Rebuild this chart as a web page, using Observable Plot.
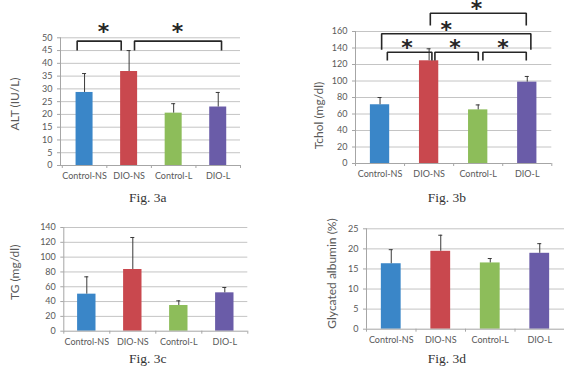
<!DOCTYPE html>
<html><head><meta charset="utf-8">
<script src="https://cdn.jsdelivr.net/npm/d3@7"></script>
<script src="https://cdn.jsdelivr.net/npm/@observablehq/plot@0.6"></script>
<style>
html,body{margin:0;padding:0;background:#fff;}
#fig{position:relative;width:564px;height:372px;overflow:hidden;background:#fff;}
.panel{position:absolute;}
.panel svg{overflow:visible;}
.cap{position:absolute;width:120px;text-align:center;font-family:"Liberation Serif",serif;font-size:13.5px;color:#333;line-height:16px;}
</style></head><body>
<div id="fig"></div>
<script>
// ---- data ----
const categories = ["Control-NS", "DIO-NS", "Control-L", "DIO-L"];
const barColors = ["#3a86c8", "#c9484e", "#8dbd5a", "#6a5ca8"];

const altMean = [28.6, 36.8, 20.5, 22.9];
const altSD = [7.4, 8.2, 3.7, 5.7];
const altBracketFrom = [0, 1];
const altBracketTo = [1, 3];
const altBracketTop = [48.7, 48.7];
const altBracketBottom = [45, 45];

const tcholMean = [71.2, 124.5, 65, 98.6];
const tcholSD = [8.8, 14.5, 6, 6.9];
const tcholBracketFrom = [0, 1, 2, 0, 1];
const tcholBracketTo = [1, 2, 3, 3, 3];
const tcholBracketTop = [134.9, 134.9, 134.9, 157.2, 182.2];
const tcholBracketBottom = [124.8, 124.8, 124.8, 137.8, 167.3];

const tgMean = [50, 83.3, 34.7, 51.8];
const tgSD = [23.4, 43.2, 6.3, 7.2];

const gaMean = [16.3, 19.4, 16.5, 18.9];
const gaSD = [3.5, 4.0, 1.1, 2.4];

const captions = ["Fig. 3a", "Fig. 3b", "Fig. 3c", "Fig. 3d"];
const yLabels = ["ALT (IU/L)", "Tchol (mg/dl)", "TG (mg/dl)", "Glycated albumin (%)"];

// ---- drawing ----
const fig = document.getElementById("fig");

function panel(cfg) {
  const rows = categories.map((c, i) => ({c, i, v: cfg.mean[i], hi: cfg.mean[i] + cfg.sd[i], color: barColors[i]}));
  const step = (cfg.width - cfg.ml - cfg.mr) / (4 - cfg.xMin);
  const barInset = (step - cfg.barWidth) / 2;
  const pts = [], stars = [];
  (cfg.from || []).forEach((f, k) => {
    const [dl, dr] = cfg.bracketDx[k];
    const xl = f + 0.5 + dl / step, xr = cfg.to[k] + 0.5 + dr / step;
    pts.push({k, x: xl, y: cfg.bottom[k]}, {k, x: xl, y: cfg.top[k]}, {k, x: xr, y: cfg.top[k]}, {k, x: xr, y: cfg.bottom[k]});
    stars.push({x: (xl + xr) / 2 + cfg.starDx[k] / step, y: cfg.top[k]});
  });
  const yTicks = d3.range(0, cfg.yMax + cfg.yStep / 2, cfg.yStep);
  const svg = Plot.plot({
    width: cfg.width, height: cfg.height,
    marginLeft: cfg.ml, marginRight: cfg.mr, marginTop: cfg.mt, marginBottom: cfg.mb,
    style: {fontFamily: "Lato, sans-serif", fontSize: "9px", color: "#595959", background: "transparent"},
    x: {type: "linear", domain: [cfg.xMin, 4], axis: null, label: null},
    y: {domain: [0, cfg.yMax], axis: null, label: null},
    marks: [
      Plot.gridY(yTicks.slice(1), {stroke: "#c4c4c4", strokeOpacity: 1}),
      Plot.rectY(rows, {x1: "i", x2: d => d.i + 1, y1: 0, y2: "v", fill: "color", insetLeft: barInset, insetRight: barInset}),
      Plot.ruleX(rows, {x: d => d.i + 0.5, y1: "v", y2: "hi", stroke: "#3a3a3a", strokeWidth: 1}),
      Plot.ruleY(rows, {x1: d => d.i + 0.5, x2: d => d.i + 0.5, y: "hi", insetLeft: -2, insetRight: -2, stroke: "#3a3a3a", strokeWidth: 1}),
      Plot.ruleY([0], {stroke: "#a6a6a6"}),
      Plot.ruleX([cfg.xMin], {y1: 0, y2: cfg.yMax, stroke: "#a6a6a6"}),
      Plot.ruleX(d3.range(0, 5), {y1: 0, y2: 0, insetBottom: -3, stroke: "#a6a6a6"}),
      Plot.axisY(yTicks, {tickSize: 3, tickPadding: 5, stroke: "#a6a6a6", fill: "#595959", label: null}),
      Plot.axisX([0.5, 1.5, 2.5, 3.5], {tickSize: 0, tickPadding: 7, tickFormat: d => categories[Math.floor(d)], fill: "#595959", label: null}),
      Plot.text([cfg.label], {frameAnchor: "left", textAnchor: "middle", lineAnchor: "middle", rotate: -90, dx: cfg.labelDx, dy: cfg.labelDy, fontSize: 12, fill: "#595959"}),
      Plot.line(pts, {x: "x", y: "y", z: "k", stroke: "#262626", strokeWidth: 1.6, strokeLinejoin: "miter", strokeLinecap: "butt"}),
      Plot.text(stars, {x: "x", y: "y", text: () => "*", dy: cfg.starDy, fontSize: 22, fontWeight: "bold", fill: "#262626", fontFamily: "DejaVu Sans"})
    ]
  });
  const div = document.createElement("div");
  div.className = "panel";
  div.style.left = cfg.left + "px";
  div.style.top = cfg.top0 + "px";
  div.appendChild(svg);
  fig.appendChild(div);
}

panel({mean: altMean, sd: altSD, label: yLabels[0], left: 0, top0: 0, width: 282, height: 186,
  ml: 60, mr: 42, mt: 37.3, mb: 21, xMin: -0.04, yMax: 50, yStep: 5, barWidth: 17, labelDx: -45, labelDy: 2.3,
  from: altBracketFrom, to: altBracketTo, top: altBracketTop, bottom: altBracketBottom,
  bracketDx: [[-7.4, -7.9], [5.4, 3.3]], starDx: [4.3, -0.5], starDy: -9});

panel({mean: tcholMean, sd: tcholSD, label: yLabels[1], left: 282, top0: 0, width: 282, height: 186,
  ml: 73, mr: 12.7, mt: 31, mb: 23, xMin: 0, yMax: 160, yStep: 20, barWidth: 19.3, labelDx: -36, labelDy: 18,
  from: tcholBracketFrom, to: tcholBracketTo, top: tcholBracketTop, bottom: tcholBracketBottom,
  bracketDx: [[7.3, 2.8], [5.8, 0.1], [4.7, -1], [1.6, 3.6], [1.2, -1]], starDx: [-2.7, -1.7, -1.7, -10, -1.7], starDy: -4});

panel({mean: tgMean, sd: tgSD, label: yLabels[2], left: 0, top0: 186, width: 282, height: 186,
  ml: 63.3, mr: 34.7, mt: 41, mb: 41.3, xMin: 0, yMax: 140, yStep: 20, barWidth: 18.4, labelDx: -48.3, labelDy: -7});

panel({mean: gaMean, sd: gaSD, label: yLabels[3], left: 282, top0: 186, width: 282, height: 186,
  ml: 84, mr: 0, mt: 42.3, mb: 43.3, xMin: 0, yMax: 25, yStep: 5, barWidth: 19.8, labelDx: -34.3, labelDy: -5.5});

const capPos = [[147.7, 198], [447, 198], [147.7, 359.3], [447, 359]];
captions.forEach((t, i) => {
  const d = document.createElement("div");
  d.className = "cap";
  d.textContent = t;
  d.style.left = (capPos[i][0] - 60) + "px";
  d.style.top = (capPos[i][1] - 8) + "px";
  fig.appendChild(d);
});
</script>
</body></html>
